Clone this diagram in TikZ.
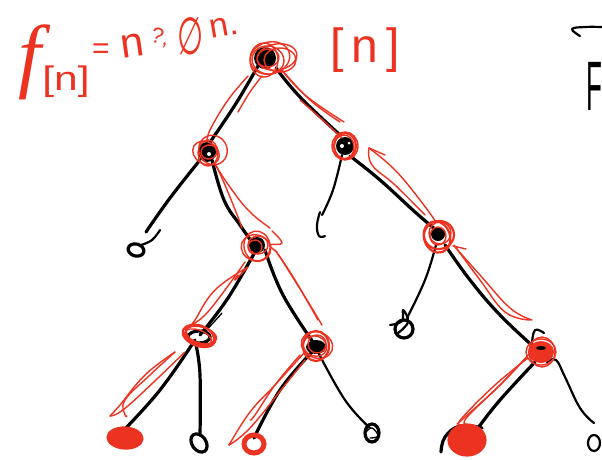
\documentclass[tikz,border=0pt]{standalone}
\usepackage{fontspec}
\setmainfont{Liberation Serif}
\setsansfont{Liberation Sans}
\newfontfamily\djfont{DejaVu Sans}
\definecolor{ink}{RGB}{236,50,32}
\tikzset{
 edgeb/.style={black,line width=3.2pt,line cap=round,line join=round},
 edgem/.style={black,line width=2.2pt,line cap=round,line join=round},
 edget/.style={black,line width=1.3pt,line cap=round,line join=round},
 redl/.style={ink,line width=1.4pt,line cap=round,line join=round},
 redm/.style={ink,line width=2.2pt,line cap=round,line join=round},
 redtxt/.style={text=ink,inner sep=0pt,outer sep=0pt,font=\sffamily},
 blob/.style={fill=ink,draw=ink,line width=1.2pt},
}
\newcommand{\crv}[2]{\draw[#1] plot[smooth,tension=0.7] coordinates {#2};}
\newcommand{\rng}[6]{\draw[#1,rotate around={#6:(#2,#3)}] (#2,#3) ellipse (#4 and #5);}
\begin{document}
\begin{tikzpicture}[x=1pt,y=-1pt]
\useasboundingbox (0,0) rectangle (602,459);
\clip (0,0) rectangle (602,459);
% black tree
\fill[black] (265,58) circle (11);
\crv{edgeb}{(258,66)(235,105)(208,145)}
\crv{edgeb}{(276,68)(300,97)(340,135)}
\crv{edgeb}{(200,160)(170,198)(146,232)}
\crv{edgeb}{(212,160)(224,200)(240,225)(254,245)}
\crv{edgem}{(342,155)(333,190)(322,215)}
\crv{edgem}{(320,212)(317,225)(319,236)(325,236)}
\crv{edgeb}{(350,156)(380,180)(415,212)(436,230)}
\crv{edgem}{(436,245)(425,280)(407,318)}
\crv{edgeb}{(445,245)(470,280)(500,315)(535,348)}
\crv{edgem}{(532,343)(535,330)(544,333)}
\crv{edgeb}{(535,362)(500,400)(478,428)}
\crv{edgeb}{(441,452)(445,437)(460,426)(482,428)}
\crv{edgem}{(547,362)(556,360)(565,377)(580,408)(594,423)}
\crv{edgeb}{(256,250)(228,298)(200,335)}
\crv{edget}{(222,313)(205,332)}
\crv{edgeb}{(265,250)(283,295)(315,345)}
\crv{edgeb}{(195,340)(160,390)(122,432)}
\crv{edgeb}{(196,345)(200,375)(200,435)}
\crv{edgeb}{(312,352)(280,390)(254,438)}
\crv{edgem}{(318,352)(345,400)(370,428)}
% black leaves
\draw[edgeb,rotate around={-15:(136,250)}] (136,250) ellipse (8 and 6);
\crv{edgem}{(141,245)(152,240)(160,230)}
\draw[edgeb] (404,329) circle (9);
\crv{edgem}{(390,325)(402,321)(403,310)(408,322)(398,333)}
\draw[edgeb,rotate around={35:(199,443)}] (199,443) ellipse (7 and 10);
\draw[edgeb] (372,433) ellipse (7 and 9);
\crv{edget}{(366,432)(372,428)(378,436)(370,438)}
\draw[edgem] (594,443) ellipse (6 and 8);
% node scribbles
\fill[black] (207,152) ellipse (9 and 10);
\fill[white] (209,154) circle (2);
\fill[black] (345,146) circle (9);
\fill[white] (342,146) circle (2);
\fill[white] (349,143) circle (1.5);
\fill[black] (257,245) circle (8);
\draw[edgeb] (199,337) ellipse (11 and 6);
\fill[black] (316,347) ellipse (10 and 7);
\fill[black] (438,234) circle (7);
\fill[black] (541,350) circle (6);
% red circles
\rng{redl}{268}{60}{16}{14}{-10}
\rng{redl}{270}{58}{20}{16}{15}
\rng{redl}{277}{57}{20}{13}{10}
\rng{redl}{264}{60}{14}{17}{0}
\rng{redl}{268}{58}{11}{9}{10}
\rng{redl}{280}{60}{16}{12}{0}
\rng{redl}{213}{150}{14}{15}{30}
\rng{redl}{206}{153}{14}{11}{-30}
\rng{redl}{208}{153}{10}{13}{0}
\rng{redl}{209}{152}{8}{7}{10}
\rng{redm}{345}{146}{11}{13}{0}
\rng{redl}{345}{146}{13}{14}{0}
\rng{redl}{344}{147}{10}{12}{0}
\rng{redl}{256}{248}{15}{13}{-20}
\rng{redl}{257}{246}{13}{15}{10}
\rng{redl}{258}{245}{10}{9}{0}
\rng{redl}{255}{247}{7}{7}{0}
\rng{redm}{199}{336}{17}{10}{-20}
\rng{redm}{200}{335}{15}{9}{-25}
\rng{redl}{198}{337}{14}{7}{-20}
\rng{redl}{201}{335}{16}{8}{-15}
\rng{redl}{317}{345}{16}{13}{-20}
\rng{redm}{316}{346}{13}{15}{0}
\rng{redl}{315}{346}{12}{10}{-20}
\rng{redl}{317}{344}{9}{9}{0}
\rng{redm}{439}{235}{15}{14}{10}
\rng{redm}{437}{237}{13}{16}{20}
\rng{redl}{440}{233}{11}{11}{0}
\rng{redl}{438}{236}{8}{9}{0}
\fill[ink] (541,352) ellipse (13 and 11);
\rng{redl}{541}{352}{15}{13}{0}
\rng{redl}{542}{352}{13}{15}{0}
\fill[black] (541,348) ellipse (5 and 2);
% red solid leaves
\draw[blob,rotate around={-3:(125,438)}] (125,438) ellipse (18 and 11);
\draw[ink,line width=5pt] (254,444) ellipse (10 and 9);
\draw[blob] (467,440) ellipse (19 and 16);
% red loop strokes
\crv{redl}{(248,76)(228,100)(211,128)(207,140)}
\crv{redl}{(262,76)(250,92)(238,112)}
\crv{redl}{(214,163)(232,190)(250,212)(270,228)}
\crv{redl}{(216,165)(225,185)(236,212)(242,228)}
\crv{redl}{(282,70)(310,100)(340,122)}
\crv{redl}{(280,68)(305,95)(344,122)}
\crv{redl}{(342,138)(325,122)(300,100)}
\crv{redl}{(369,148)(395,170)(420,200)(436,222)}
\crv{redl}{(369,148)(372,165)(395,185)(425,215)}
\crv{redl}{(369,148)(385,155)}
\crv{redl}{(455,247)(480,275)(510,308)(532,320)}
\crv{redl}{(454,245)(480,280)(505,312)(530,320)}
\crv{redl}{(453,246)(466,249)}
\crv{redl}{(530,353)(500,385)(465,417)(457,424)}
\crv{redl}{(528,358)(495,385)(462,418)(460,425)}
\crv{redl}{(526,358)(500,385)(468,416)(465,424)}
\crv{redl}{(248,267)(215,290)(195,320)(191,325)}
\crv{redl}{(191,325)(205,315)(225,290)(245,262)}
\crv{redl}{(238,275)(235,280)(247,268)}
\crv{redl}{(175,352)(145,375)(120,405)(110,416)}
\crv{redl}{(175,352)(150,375)(125,400)(125,415)(127,416)}
\crv{redl}{(110,416)(120,412)(140,395)(185,352)}
\crv{redl}{(275,250)(285,265)(310,305)(322,325)}
\crv{redl}{(277,252)(270,245)(282,243)(272,231)}
\crv{redl}{(278,254)(295,280)(318,320)}
\crv{redl}{(305,352)(275,385)(250,412)(229,445)}
\crv{redl}{(229,445)(250,428)(285,385)(305,360)}
\crv{redl}{(300,355)(275,385)(255,415)(250,420)}
% text
\node[redtxt,font=\rmfamily\itshape,scale=8.2] (ftxt) at (30,62) {f};
\node[redtxt,scale=3.4,xscale=1.25] (btxt) at (66,82) {[n]};
\node[redtxt,scale=3] (eqtxt) at (101,51) {=};
\node[redtxt,scale=4.2,rotate=8] (ntxt) at (132,46) {n};
\node[redtxt,scale=2.2,rotate=-15] (qtxt) at (160,38) {?,};
\node[redtxt,font=\djfont,xscale=3,yscale=5.2] (etxt) at (191,36) {∅};
\node[redtxt,scale=3.4,rotate=10] (mtxt) at (224,27) {n.};
\node[redtxt,scale=4.8] (ntxtb) at (365,50) {[\,n\,]};
\node[inner sep=0pt,font=\sffamily,xscale=2.6,yscale=7] (Ftxt) at (594,86) {F};
\crv{edgem}{(602,27)(585,27)(572,29)(580,36)}
\end{tikzpicture}
\end{document}
